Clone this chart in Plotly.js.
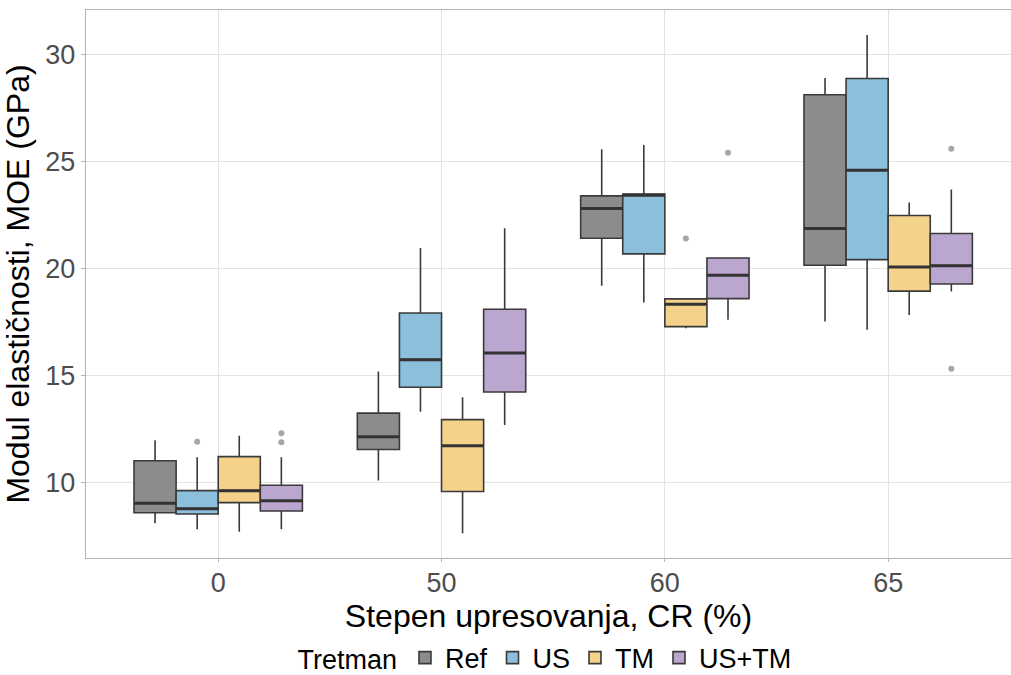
<!DOCTYPE html>
<html>
<head>
<meta charset="utf-8">
<script src="https://cdn.plot.ly/plotly-3.0.1.min.js"></script>
<style>html,body{margin:0;padding:0;background:#fff;}#chart{width:1011px;height:675px;}</style>
</head>
<body>
<div id="chart"></div>
<script>
const categories = ['0', '50', '60', '65'];
const seriesNames = ['Ref', 'US', 'TM', 'US+TM'];

const refQ1  = [8.61, 11.56, 21.43, 20.17];
const refMed = [9.05, 12.16, 22.82, 21.89];
const refQ3  = [11.04, 13.26, 23.41, 28.13];
const refLo  = [8.12, 10.11, 19.21, 17.54];
const refHi  = [12.00, 15.20, 25.59, 28.91];
const refOutCat = [];
const refOutVal = [];

const usQ1  = [8.55, 14.47, 20.70, 20.43];
const usMed = [8.80, 15.76, 23.44, 24.61];
const usQ3  = [9.64, 17.94, 23.49, 28.89];
const usLo  = [7.84, 13.33, 18.43, 17.15];
const usHi  = [11.20, 20.97, 25.79, 30.92];
const usOutCat = [0];
const usOutVal = [11.92];

const tmQ1  = [9.08, 9.60, 17.30, 18.96];
const tmMed = [9.64, 11.74, 18.35, 20.09];
const tmQ3  = [11.23, 12.96, 18.60, 22.49];
const tmLo  = [7.72, 7.65, 17.23, 17.84];
const tmHi  = [12.21, 14.00, 18.60, 23.10];
const tmOutCat = [2];
const tmOutVal = [21.42];

const ustmQ1  = [8.69, 14.25, 18.61, 19.29];
const ustmMed = [9.17, 16.07, 19.70, 20.15];
const ustmQ3  = [9.89, 18.11, 20.51, 21.65];
const ustmLo  = [7.84, 12.71, 17.62, 18.94];
const ustmHi  = [11.20, 21.90, 20.51, 23.71];
const ustmOutCat = [0, 0, 2, 3, 3];
const ustmOutVal = [12.32, 11.90, 25.42, 25.61, 15.33];

const fills = ['#8c8c8c', '#8bbfdc', '#f5d28a', '#bba6d0'];
const seriesData = [
  {q1: refQ1, med: refMed, q3: refQ3, lo: refLo, hi: refHi, oc: refOutCat, ov: refOutVal},
  {q1: usQ1, med: usMed, q3: usQ3, lo: usLo, hi: usHi, oc: usOutCat, ov: usOutVal},
  {q1: tmQ1, med: tmMed, q3: tmQ3, lo: tmLo, hi: tmHi, oc: tmOutCat, ov: tmOutVal},
  {q1: ustmQ1, med: ustmMed, q3: ustmQ3, lo: ustmLo, hi: ustmHi, oc: ustmOutCat, ov: ustmOutVal}
];

const boxW = 0.1885;
const catIdx = categories.map((c, i) => i);
const traces = [];
const medTraces = [];
const outTraces = [];
seriesData.forEach((s, k) => {
  const off = (k - 1.5) * boxW;
  const xs = catIdx.map(i => i + off);
  traces.push({
    type: 'box', name: seriesNames[k],
    x: xs, q1: s.q1, median: s.med, q3: s.q3,
    lowerfence: s.lo, upperfence: s.hi,
    width: boxW, whiskerwidth: 0,
    fillcolor: fills[k],
    line: {color: '#3a3a3a', width: 1.6},
    boxpoints: false, hoverinfo: 'skip'
  });
  const mx = [], my = [];
  xs.forEach((x, i) => { mx.push(x - boxW / 2, x + boxW / 2, null); my.push(s.med[i], s.med[i], null); });
  medTraces.push({type: 'scatter', mode: 'lines', x: mx, y: my, showlegend: false,
    line: {color: '#333333', width: 3}, hoverinfo: 'skip'});
  if (s.ov.length) {
    outTraces.push({type: 'scatter', mode: 'markers', x: s.oc.map(c => c + off), y: s.ov,
      showlegend: false, marker: {color: '#a6a6a6', size: 6}, hoverinfo: 'skip'});
  }
});

const layout = {
  width: 1011, height: 675,
  margin: {l: 86, r: 0, t: 10, b: 117},
  paper_bgcolor: '#ffffff', plot_bgcolor: '#ffffff',
  font: {family: 'Liberation Sans, Arial, sans-serif', color: '#000'},
  boxmode: 'overlay',
  showlegend: true,
  legend: {
    orientation: 'h', x: 0.54, xref: 'container', xanchor: 'center',
    y: 0.025, yref: 'container', yanchor: 'middle',
    title: {text: 'Tretman', side: 'left', font: {size: 27, color: '#000'}},
    font: {size: 27, color: '#000'}, itemwidth: 30, tracegroupgap: 0
  },
  xaxis: {
    range: [-0.592, 3.55],
    tickmode: 'array', tickvals: catIdx, ticktext: categories,
    showgrid: true, gridcolor: '#e3e3e3', gridwidth: 1,
    zeroline: false, showline: true, linecolor: '#b3b3b3', linewidth: 1.2, mirror: true,
    ticks: 'outside', ticklen: 3, tickcolor: '#b3b3b3', ticklabelstandoff: -3,
    tickfont: {size: 27, color: '#4d4d4d'},
    title: {text: 'Stepen upresovanja, CR (%)', font: {size: 32, color: '#000'}, standoff: 0}
  },
  yaxis: {
    range: [6.495, 32.09],
    tickvals: [10, 15, 20, 25, 30],
    showgrid: true, gridcolor: '#e3e3e3', gridwidth: 1,
    zeroline: false, showline: true, linecolor: '#b3b3b3', linewidth: 1.2,
    ticks: 'outside', ticklen: 4, tickcolor: '#b3b3b3',
    tickfont: {size: 27, color: '#4d4d4d'},
    title: {text: 'Modul elastičnosti, MOE (GPa)', font: {size: 32, color: '#000'}, standoff: 6}
  }
};

Plotly.newPlot('chart', traces.concat(medTraces, outTraces), layout, {staticPlot: true, displayModeBar: false});
</script>
</body>
</html>
